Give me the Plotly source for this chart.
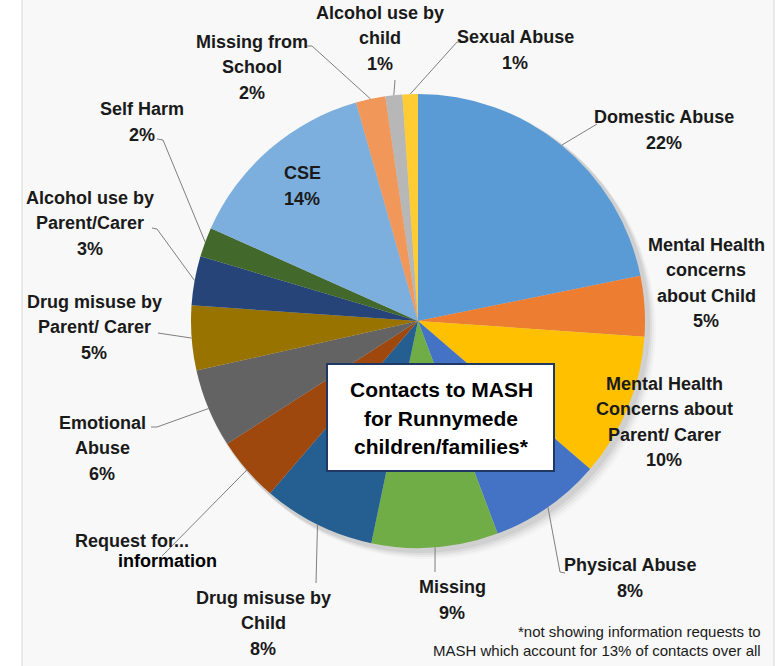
import math
import plotly.graph_objects as go

# ---------------- data ----------------
categories = ["Domestic Abuse", "Mental Health concerns about Child",
              "Mental Health Concerns about Parent/ Carer", "Physical Abuse", "Missing",
              "Drug misuse by Child", "Request for information", "Emotional Abuse",
              "Drug misuse by Parent/ Carer", "Alcohol use by Parent/Carer", "Self Harm",
              "CSE", "Missing from School", "Alcohol use by child", "Sexual Abuse"]
values = [21.8, 4.3, 10.2, 8.0, 9.0, 8.0, 4.6, 5.6, 4.6, 3.5, 2.1, 13.9, 2.1, 1.2, 1.1]
pct_text = ["22%", "5%", "10%", "8%", "9%", "8%", "", "6%", "5%", "3%", "2%",
            "14%", "2%", "1%", "1%"]
label_lines = [["Domestic Abuse"], ["Mental Health", "concerns", "about Child"],
               ["Mental Health", "Concerns about", "Parent/ Carer"], ["Physical Abuse"],
               ["Missing"], ["Drug misuse by", "Child"], [], ["Emotional", "Abuse"],
               ["Drug misuse by", "Parent/ Carer"], ["Alcohol use by", "Parent/Carer"],
               ["Self Harm"], ["CSE"], ["Missing from", "School"],
               ["Alcohol use by", "child"], ["Sexual Abuse"]]
colors = ["#5B9BD5", "#ED7D31", "#FFC000", "#4472C4", "#70AD47", "#255E91", "#9E480E",
          "#636363", "#997300", "#264478", "#43682B", "#7CAFDD", "#F1975A", "#B7B7B7",
          "#FFCD33"]
title_lines = ["Contacts to MASH", "for Runnymede", "children/families*"]
footnote_lines = ["*not showing information requests to",
                  "MASH which account for 13% of contacts over all"]

# ---------------- layout (pixel space) ----------------
W, H = 780, 666
CX, CY, R = 418, 321, 227
FONT = "Liberation Sans, Arial, sans-serif"
LBL_SIZE, LBL_STEP = 18, 25.5

# label block centres and leader-line points (label side) per category
label_pos = [(664, 130), (706, 283), (664, 422), (630, 578), (452, 600),
             (263, 623), None, (102, 448), (94, 327), (90, 223), (142, 122),
             (302, 186), (252, 67), (380, 38), (515, 50)]
leader_pts = [[(597, 124)], None, None, [(560, 572), (565, 573)], [(435, 572)],
              [(316, 583)], [(162, 556)], [(157, 427), (151, 427)],
              [(158, 333)], [(157, 229), (152, 228)], [(163, 140), (157, 139)],
              None, [(312, 46), (307, 46)], [(395, 80)], [(457, 42), (462, 42)]]

total = sum(values)
cum = 0.0
edge_pts = []
for v in values:
    th = 2 * math.pi * (cum + v / 2) / total
    edge_pts.append((CX + R * math.sin(th), CY - R * math.cos(th)))
    cum += v

fig = go.Figure()
fig.add_trace(go.Scatter(x=[None], y=[None], showlegend=False, hoverinfo="skip"))
fig.add_trace(go.Pie(
    labels=categories, values=values, sort=False, direction="clockwise", rotation=0,
    marker=dict(colors=colors, line=dict(width=0)), textinfo="none", hoverinfo="label+percent",
    showlegend=False,
    domain=dict(x=[(CX - R) / W, (CX + R) / W], y=[(H - CY - R) / H, (H - CY + R) / H]),
))

shapes = []
shapes.append(dict(type="rect", xref="x", yref="y", x0=22, x1=774, y0=-2, y1=668,
                   fillcolor="#f8f8f8", line=dict(color="#d6d6d6", width=1), layer="below"))
for off, alpha in [(9, 0.025), (7, 0.035), (5, 0.05), (3, 0.06)]:
    shapes.append(dict(type="circle", xref="x", yref="y",
                       x0=CX - R + off - 2, x1=CX + R + off + 2,
                       y0=CY - R + off - 2, y1=CY + R + off + 2,
                       fillcolor=f"rgba(0,0,0,{alpha})", line=dict(width=0), layer="below"))
for e, pts in zip(edge_pts, leader_pts):
    if not pts:
        continue
    path = f"M {e[0]:.1f} {e[1]:.1f} " + " ".join(f"L {p[0]} {p[1]}" for p in pts)
    shapes.append(dict(type="path", xref="x", yref="y", path=path,
                       line=dict(color="#7f7f7f", width=1), layer="above"))
shapes.append(dict(type="rect", xref="x", yref="y", x0=327, x1=554, y0=364, y1=471,
                   fillcolor="white", line=dict(color="#1F3864", width=2), layer="above"))

annotations = []


def add_lines(lines, x, yc, step, size, bold=True, xanchor="center", color="#1a1a1a"):
    n = len(lines)
    for i, ln in enumerate(lines):
        annotations.append(dict(
            x=x, y=yc + (i - (n - 1) / 2) * step, xref="x", yref="y", showarrow=False,
            text=f"<b>{ln}</b>" if bold else ln, xanchor=xanchor, yanchor="middle",
            font=dict(family=FONT, size=size, color=color)))


for lines, pct, pos in zip(label_lines, pct_text, label_pos):
    if pos is None or not lines:
        continue
    add_lines(lines + [pct], pos[0], pos[1], LBL_STEP, LBL_SIZE)

add_lines(["Request for..."], 73, 541, LBL_STEP, LBL_SIZE, xanchor="left")
add_lines(["information"], 116, 561, LBL_STEP, LBL_SIZE, xanchor="left", color="#000000")
add_lines(title_lines, 441, 418, 28.5, 21, color="#000000")
add_lines(footnote_lines, 763, 640.5, 19, 15, bold=False, xanchor="right")

fig.update_layout(
    width=W, height=H, margin=dict(l=0, r=0, t=0, b=0),
    paper_bgcolor="white", plot_bgcolor="rgba(0,0,0,0)",
    xaxis=dict(range=[0, W], visible=False, fixedrange=True, domain=[0, 1]),
    yaxis=dict(range=[H, 0], visible=False, fixedrange=True, domain=[0, 1]),
    shapes=shapes, annotations=annotations,
)
fig.write_html("out.html")
